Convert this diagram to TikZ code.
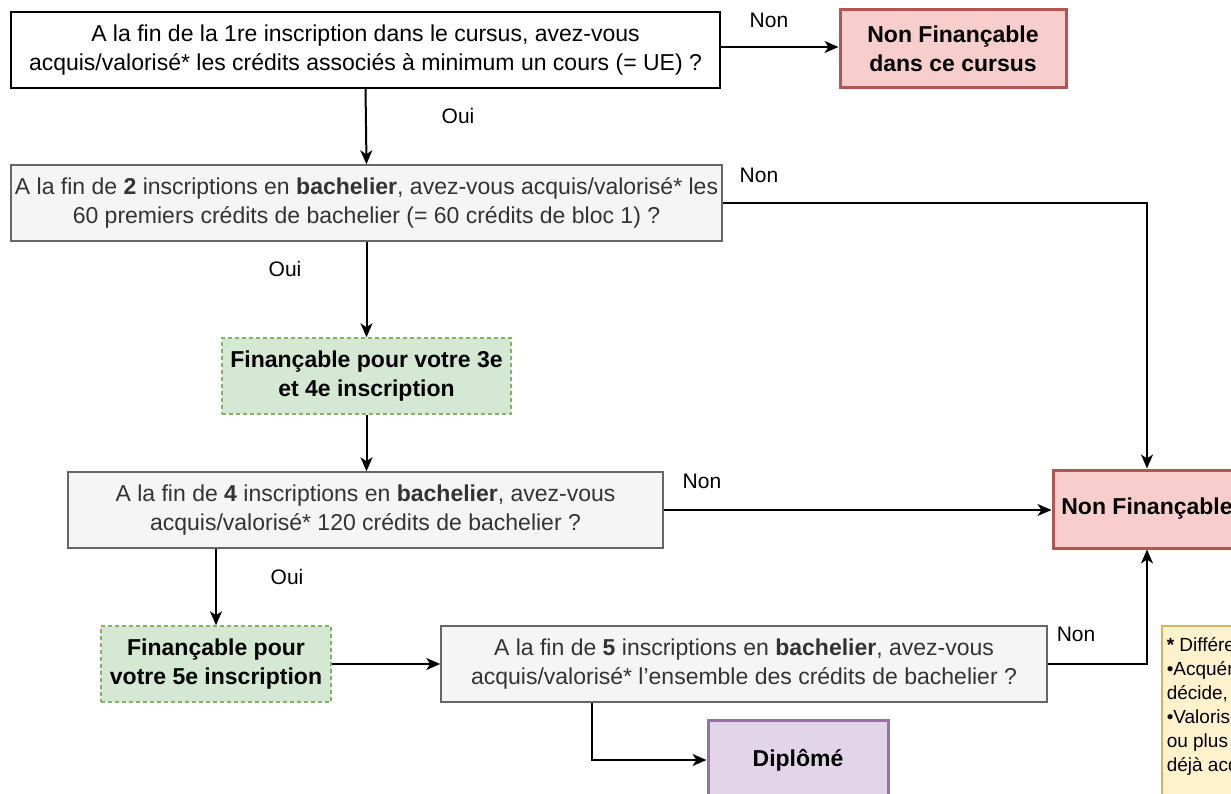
\documentclass[tikz,border=0pt]{standalone}
\usepackage{fontspec}
\setmainfont{Liberation Sans}
\usetikzlibrary{arrows.meta,calc}
\definecolor{nonfill}{HTML}{F8CECC}
\definecolor{nonline}{HTML}{B85450}
\definecolor{okfill}{HTML}{D5E8D4}
\definecolor{okline}{HTML}{82B366}
\definecolor{askfill}{HTML}{F5F5F5}
\definecolor{askline}{HTML}{666666}
\definecolor{asktext}{HTML}{333333}
\definecolor{dipfill}{HTML}{E1D5E7}
\definecolor{dipline}{HTML}{9673A6}
\definecolor{notefill}{HTML}{FFF2CC}
\definecolor{noteline}{HTML}{D6B656}
\tikzset{
  base/.style={align=center, inner sep=2pt, font=\fontsize{23}{29}\selectfont},
  first/.style={base, draw=black, fill=white, line width=1.5pt},
  ask/.style={base, draw=askline, fill=askfill, text=asktext, line width=1.5pt},
  nonfin/.style={base, draw=nonline, fill=nonfill, line width=3pt, font=\fontsize{23}{29}\selectfont\bfseries},
  fin/.style={base, draw=okline, fill=okfill, line width=1.5pt, dash pattern=on 4pt off 3pt, font=\fontsize{23}{29}\selectfont\bfseries},
  dip/.style={base, draw=dipline, fill=dipfill, line width=3pt, font=\fontsize{23}{29}\selectfont\bfseries},
  note/.style={draw=noteline, fill=notefill, line width=1.5pt, inner sep=0pt, anchor=north west, font=\fontsize{19}{24}\selectfont},
  lab/.style={font=\fontsize{21}{25}\selectfont},
  arr/.style={-{Stealth[length=14pt,width=12pt,inset=4pt]}, line width=2pt},
}
\begin{document}
\begin{tikzpicture}[x=1pt,y=-1pt]
  \useasboundingbox (0,0) rectangle (1231,794);
  % boxes
  \node [first, minimum width=709pt, minimum height=76pt] (q1) at (365.5,50)
    {A la fin de la 1re inscription dans le cursus, avez-vous\\acquis/valorisé* les crédits associés à minimum un cours (= UE) ?};
  \node [nonfin, minimum width=226pt, minimum height=78pt] (nf1) at (953,49)
    {Non Finançable\\dans ce cursus};
  \node [ask, minimum width=711pt, minimum height=76pt] (q2) at (366.5,203)
    {A la fin de \textbf{2} inscriptions en \textbf{bachelier}, avez-vous acquis/valorisé* les\\60 premiers crédits de bachelier (= 60 crédits de bloc 1) ?};
  \node [fin, minimum width=289pt, minimum height=76pt] (f34) at (366.5,376)
    {Finançable pour votre 3e\\et 4e inscription};
  \node [ask, minimum width=595pt, minimum height=76pt] (q4) at (365.5,510)
    {A la fin de \textbf{4} inscriptions en \textbf{bachelier}, avez-vous\\acquis/valorisé* 120 crédits de bachelier ?};
  \node [nonfin, minimum width=188pt, minimum height=78pt] (nf2) at (1147,509)
    {Non Finançable};
  \node [fin, minimum width=230pt, minimum height=76pt] (f5) at (216,664)
    {Finançable pour\\votre 5e inscription};
  \node [ask, minimum width=606pt, minimum height=76pt] (q5) at (744,664)
    {A la fin de \textbf{5} inscriptions en \textbf{bachelier}, avez-vous\\acquis/valorisé* l’ensemble des crédits de bachelier ?};
  \node [dip, minimum width=180pt, minimum height=80pt] (dip) at (798,760)
    {Diplômé};
  \node [note] (note) at (1161,625)
    {\parbox[t][200pt][t]{240pt}{\vspace*{9pt}\hspace*{5pt}\begin{tabular}{@{}l@{}}
      \textbf{*} Différence\\
      •Acquérir\\
      décide,\\
      •Valoriser\\
      ou plus\\
      déjà acquis
    \end{tabular}}};
  % arrows
  \draw [arr] (q1.east |- 0,47) -- (nf1.west |- 0,47);
  \draw [arr] (q1.south) -- (q2.north);
  \draw [arr] (q2.east) -| (nf2.north);
  \draw [arr] (q2.south) -- (f34.north);
  \draw [arr] (f34.south) -- (f34.south |- q4.north);
  \draw [arr] (q4.east) -- (q4.east -| nf2.west);
  \draw [arr] (f5.north |- q4.south) -- (f5.north);
  \draw [arr] (f5.east) -- (q5.west);
  \draw [arr] (q5.east) -| (nf2.south);
  \coordinate (q5d) at ($(q5.south west)!0.25!(q5.south east)$);
  \draw [arr] (q5d) |- (dip.west);
  % labels
  \node [lab] (non1) at (769,20) {Non};
  \node [lab] (oui1) at (458,116) {Oui};
  \node [lab] (non2) at (759,175) {Non};
  \node [lab] (oui2) at (285,269) {Oui};
  \node [lab] (non3) at (702,481) {Non};
  \node [lab] (oui3) at (287,577) {Oui};
  \node [lab] (non4) at (1076,634) {Non};
\end{tikzpicture}
\end{document}
